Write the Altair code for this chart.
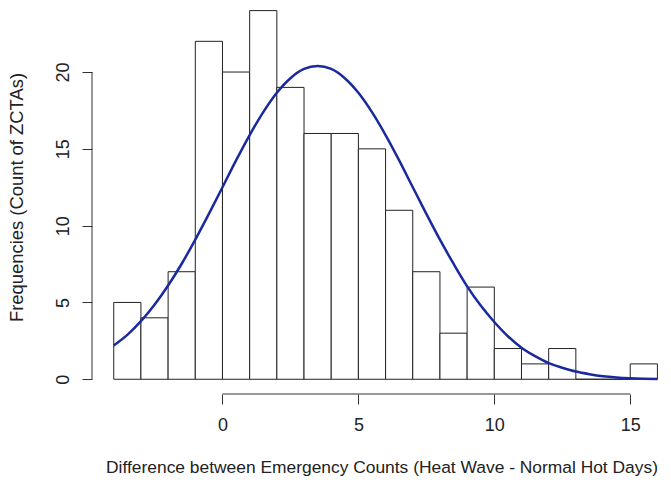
import altair as alt
import pandas as pd

# Histogram bins (width 1) and counts
bin_start = [-4, -3, -2, -1, 0, 1, 2, 3, 4, 5, 6, 7, 8, 9, 10, 11, 12, 13, 14, 15]
counts = [5, 4, 7, 22, 20, 24, 19, 16, 16, 15, 11, 7, 3, 6, 2, 1, 2, 0, 0, 1]

# Fitted normal curve
curve_x = [-4, -3.5, -3, -2.5, -2, -1.5, -1, -0.5, 0, 0.5, 1, 1.5, 2, 2.5, 3, 3.5,
           4, 4.5, 5, 5.5, 6, 6.5, 7, 7.5, 8, 8.5, 9, 9.5, 10, 10.5, 11, 11.5,
           12, 12.5, 13, 13.5, 14, 14.5, 15, 15.5, 16]
curve_y = [2.2, 2.89, 3.78, 4.85, 6.1, 7.52, 9.09, 10.77, 12.5, 14.25, 15.9, 17.39,
           18.65, 19.6, 20.2, 20.4, 20.2, 19.6, 18.65, 17.39, 15.9, 14.25, 12.5,
           10.77, 9.09, 7.52, 6.05, 4.8, 3.73, 2.8, 2.05, 1.5, 1.05, 0.75, 0.5,
           0.33, 0.2, 0.12, 0.07, 0.04, 0.02]

x_ticks = [0, 5, 10, 15]
y_ticks = [0, 5, 10, 15, 20]

FONT = "Liberation Sans"
AX = "#333333"
TXT = "#222222"
W, H = 579, 394
XDOM = [-4.8, 16.5]
YDOM = [-0.96, 24.69]

bars = pd.DataFrame({"x": bin_start, "x2": [b + 1 for b in bin_start], "n": counts})
curve = pd.DataFrame({"x": curve_x, "y": curve_y})

xs = alt.Scale(domain=XDOM, nice=False, zero=False)
ys = alt.Scale(domain=YDOM, nice=False, zero=False)

hist = alt.Chart(bars).mark_rect(fill="white", stroke="#222222", strokeWidth=1).encode(
    x=alt.X("x:Q", scale=xs, axis=alt.Axis(
        values=x_ticks, domain=False, grid=False,
        tickSize=10, tickColor=AX,
        tickWidth=1, labelFontSize=18, labelFont=FONT, labelColor=TXT,
        labelPadding=12, title="Difference between Emergency Counts (Heat Wave - Normal Hot Days)",
        titleFont=FONT, titleFontSize=17.4, titleFontWeight="normal", titleColor=TXT,
        titlePadding=24)),
    x2="x2:Q",
    y=alt.Y("n:Q", scale=ys, axis=alt.Axis(
        values=y_ticks, domain=False, grid=False,
        tickSize=10, tickColor=AX,
        tickWidth=1, labelFontSize=18, labelFont=FONT, labelColor=TXT,
        labelAngle=270, labelAlign="center", labelBaseline="bottom", labelPadding=10,
        title="Frequencies (Count of ZCTAs)", titleFont=FONT, titleFontSize=18.4,
        titleFontWeight="normal", titleColor=TXT, titlePadding=28)),
    y2=alt.Y2(datum=0),
)

line = alt.Chart(curve).mark_line(color="#1a2a9e", strokeWidth=2.5, interpolate="monotone").encode(
    x=alt.X("x:Q", scale=xs),
    y=alt.Y("y:Q", scale=ys),
)

xt = pd.DataFrame({"a": [min(x_ticks)], "b": [max(x_ticks)]})
x_axis_line = alt.Chart(xt).mark_rule(color=AX, strokeWidth=1).encode(
    x=alt.X("a:Q", scale=xs), x2="b:Q", y=alt.value(H)
)
yt = pd.DataFrame({"a": [min(y_ticks)], "b": [max(y_ticks)]})
y_axis_line = alt.Chart(yt).mark_rule(color=AX, strokeWidth=1).encode(
    y=alt.Y("a:Q", scale=ys), y2="b:Q", x=alt.value(0)
)

chart = alt.layer(hist, line, x_axis_line, y_axis_line).properties(
    width=W, height=H,
    background="white",
    autosize=alt.AutoSizeParams(type="none"),
    padding={"left": 92, "top": 0, "right": 0, "bottom": 89},
).configure_view(strokeWidth=0, stroke="transparent").configure_axis(
    domain=False, grid=False
)

chart.save("out.html", embed_options={"renderer": "svg", "actions": False})
